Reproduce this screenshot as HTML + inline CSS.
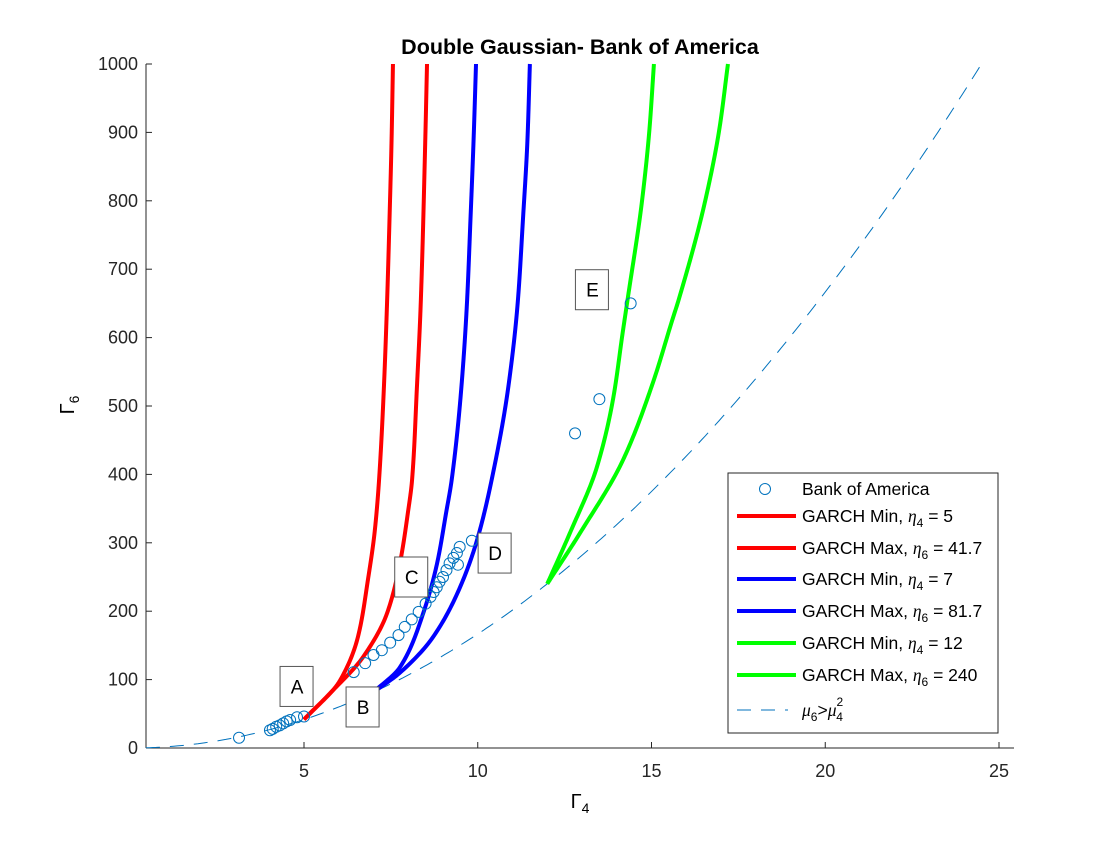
<!DOCTYPE html>
<html><head><meta charset="utf-8"><style>
body{margin:0;background:#fff;}
svg text{font-family:"Liberation Sans",Arial,sans-serif;}
</style></head><body>
<svg id="chart" width="1120" height="840" viewBox="0 0 1120 840" xmlns="http://www.w3.org/2000/svg">
<rect width="1120" height="840" fill="#fff"/>
<text x="580" y="54" text-anchor="middle" font-size="21.5" font-weight="bold">Double Gaussian- Bank of America</text>
<g id="axes"></g><g id="series"></g><g id="labels"></g><g id="legend"></g>
</svg>
<script>
const xTicks=[5,10,15,20,25];
const yTicks=[0,100,200,300,400,500,600,700,800,900,1000];
const scatterX=[3.13,4.02,4.1,4.2,4.3,4.4,4.5,4.6,4.8,5.0,6.43,6.76,7.0,7.24,7.48,7.72,7.9,8.1,8.3,8.5,8.64,8.73,8.82,8.9,9.0,9.1,9.19,9.3,9.43,9.4,9.48,9.83,12.8,13.5,14.4];
const scatterY=[15,26,28,31,33,36,39,41,45,46,111,124,136,143,154,165,177,188,199,211,221,228,235,243,250,260,270,278,268,285,294,303,460,510,650];
const redMinX=[5,6.04,6.55,6.84,7.04,7.16,7.30,7.39,7.46,7.52,7.56];
const redMinY=[41.7,99,162,246,319,392,528,651,772,889,1000];
const redMaxX=[5,5.75,6.70,7.39,7.76,7.99,8.11,8.25,8.36,8.49,8.54];
const redMaxY=[41.7,80,133,197,270,344,392,528,651,889,1000];
const blueMinX=[7,7.76,8.43,8.83,9.09,9.25,9.53,9.69,9.79,9.88,9.95];
const blueMinY=[81.7,118,197,270,344,392,528,651,772,889,1000];
const blueMaxX=[7,7.76,8.71,9.49,9.98,10.40,10.88,11.15,11.30,11.43,11.50];
const blueMaxY=[81.7,110,162,235,304,392,528,651,772,889,1000];
const greenMinX=[12,12.65,13.43,13.89,14.17,14.31,14.73,14.94,15.07];
const greenMinY=[240,314,411,509,607,655,801,904,1000];
const greenMaxX=[12,12.94,14.18,15.04,15.60,15.78,16.55,16.95,17.2];
const greenMaxY=[240,314,421,534,626,655,801,904,1000];
const boundCoef=5/3;
const annotText=["A","B","C","D","E"];
const annotX=[4.8,6.7,8.1,10.5,13.3];
const annotY=[90,60,250,285,670];
const legendText=["Bank of America","GARCH Min, η4 = 5","GARCH Max, η6 = 41.7","GARCH Min, η4 = 7","GARCH Max, η6 = 81.7","GARCH Min, η4 = 12","GARCH Max, η6 = 240","μ6>μ4²"];

const NS="http://www.w3.org/2000/svg";
const X=v=>130.25+v*34.75, Y=v=>748-v*0.684;
function mk(tag,attrs,parent){const e=document.createElementNS(NS,tag);for(const k in attrs)e.setAttribute(k,attrs[k]);parent.appendChild(e);return e;}
const ax=document.getElementById('axes'),se=document.getElementById('series'),lb=document.getElementById('labels'),lg=document.getElementById('legend');
let a=mk('line',{x1:146,y1:748,x2:1014,y2:748,stroke:'#262626','stroke-width':1},ax);

a=mk('line',{x1:146,y1:64,x2:146,y2:748,stroke:'#262626','stroke-width':1},ax);

xTicks.forEach(t=>{mk('line',{x1:X(t),y1:748,x2:X(t),y2:742,stroke:'#262626'},ax);
 const e=mk('text',{x:X(t),y:777,'text-anchor':'middle','font-size':18,fill:'#262626'},ax);e.textContent=t;
 });
yTicks.forEach(t=>{mk('line',{x1:146,y1:Y(t),x2:152,y2:Y(t),stroke:'#262626'},ax);
 const e=mk('text',{x:138,y:Y(t)+6,'text-anchor':'end','font-size':18,fill:'#262626'},ax);e.textContent=t;
 });
let t=mk('text',{x:580,y:808,'text-anchor':'middle','font-size':20,'font-family':'Liberation Serif,serif'},ax);
t.innerHTML='Γ<tspan font-size="14" dy="5">4</tspan>';

t=mk('text',{x:0,y:0,'text-anchor':'middle','font-size':20,'font-family':'Liberation Serif,serif',transform:'translate(74,405) rotate(-90)'},ax);
t.innerHTML='Γ<tspan font-size="14" dy="5">6</tspan>';


let bx=[];for(let v=0.45;v<=24.6;v+=0.1)bx.push(v);
let p=mk('path',{d:'M'+bx.map(v=>X(v).toFixed(1)+','+Y(boundCoef*v*v).toFixed(1)).join('L'),fill:'none',stroke:'#0072BD','stroke-width':1,'stroke-dasharray':'14,10'},se);


function monotone(ys,xs){const n=ys.length,d=[],m=[];
 for(let i=0;i<n-1;i++)d.push((xs[i+1]-xs[i])/(ys[i+1]-ys[i]));
 m[0]=d[0];m[n-1]=d[n-2];
 for(let i=1;i<n-1;i++){if(d[i-1]*d[i]<=0)m[i]=0;else{const h0=ys[i]-ys[i-1],h1=ys[i+1]-ys[i];const w1=2*h1+h0,w2=h1+2*h0;m[i]=(w1+w2)/(w1/d[i-1]+w2/d[i]);}}
 return y=>{let i=0;while(i<n-2&&y>ys[i+1])i++;const h=ys[i+1]-ys[i],t=(y-ys[i])/h;
  const h00=2*t*t*t-3*t*t+1,h10=t*t*t-2*t*t+t,h01=-2*t*t*t+3*t*t,h11=t*t*t-t*t;
  return h00*xs[i]+h10*h*m[i]+h01*xs[i+1]+h11*h*m[i+1];};}
function curve(xs,ys,col,name){const f=monotone(ys,xs);const pts=[];
 const y0=ys[0],y1=ys[ys.length-1];
 for(let k=0;k<=300;k++){const y=y0+(y1-y0)*k/300;pts.push(X(f(y)).toFixed(2)+','+Y(y).toFixed(2));}
 const e=mk('path',{d:'M'+pts.join('L'),fill:'none',stroke:col,'stroke-width':4,'stroke-linejoin':'round'},se);
 }
curve(redMinX,redMinY,'#ff0000','red-min-curve');
curve(redMaxX,redMaxY,'#ff0000','red-max-curve');
curve(blueMinX,blueMinY,'#0000ff','blue-min-curve');
curve(blueMaxX,blueMaxY,'#0000ff','blue-max-curve');
curve(greenMinX,greenMinY,'#00ff00','green-min-curve');
curve(greenMaxX,greenMaxY,'#00ff00','green-max-curve');
scatterX.forEach((v,i)=>{const c=mk('circle',{cx:X(v),cy:Y(scatterY[i]),r:5.5,fill:'none',stroke:'#0072BD','stroke-width':1},se);
 });
annotText.forEach((s,i)=>{const g=mk('g',{},lb);
 
 mk('rect',{x:X(annotX[i])-17,y:Y(annotY[i])-20,width:33,height:40,fill:'#fff',stroke:'#555'},g);
 const e=mk('text',{x:X(annotX[i]),y:Y(annotY[i])+7,'text-anchor':'middle','font-size':19},g);e.textContent=s;});
let r=mk('rect',{x:728,y:473,width:270,height:260,fill:'#fff',stroke:'#262626'},lg);

const rowY=[489,516,548,579,611,643,675,710];
const cols=[null,'#ff0000','#ff0000','#0000ff','#0000ff','#00ff00','#00ff00',null];
const subs=[null,'4','6','4','6','4','6',null];
legendText.forEach((s,i)=>{const g=mk('g',{},lg);
 
 const y=rowY[i];
 if(i===0)mk('circle',{cx:765,cy:y,r:5.5,fill:'none',stroke:'#0072BD'},g);
 else if(i===7){mk('line',{x1:737,y1:y,x2:788,y2:y,stroke:'#0072BD','stroke-dasharray':'14,10'},g);}
 else mk('line',{x1:737,y1:y,x2:796,y2:y,stroke:cols[i],'stroke-width':4},g);
 const e=mk('text',{x:802,y:y+6,'font-size':17.5,fill:'#000'},g);
 if(i===0)e.textContent=s;
 else if(i===7)e.innerHTML='<tspan font-style="italic" font-family="Liberation Serif,serif">μ</tspan><tspan font-size="12" dy="5">6</tspan><tspan dy="-5">&gt;</tspan><tspan font-style="italic" font-family="Liberation Serif,serif">μ</tspan><tspan font-size="12" dy="-10">2</tspan><tspan font-size="12" dx="-7" dy="15">4</tspan>';
 else{const parts=s.split('η'+subs[i]);e.innerHTML=parts[0]+'<tspan font-style="italic" font-family="Liberation Serif,serif">η</tspan><tspan font-size="12" dy="5">'+subs[i]+'</tspan><tspan dy="-5">'+parts[1]+'</tspan>';}
});
</script>
</body></html>
